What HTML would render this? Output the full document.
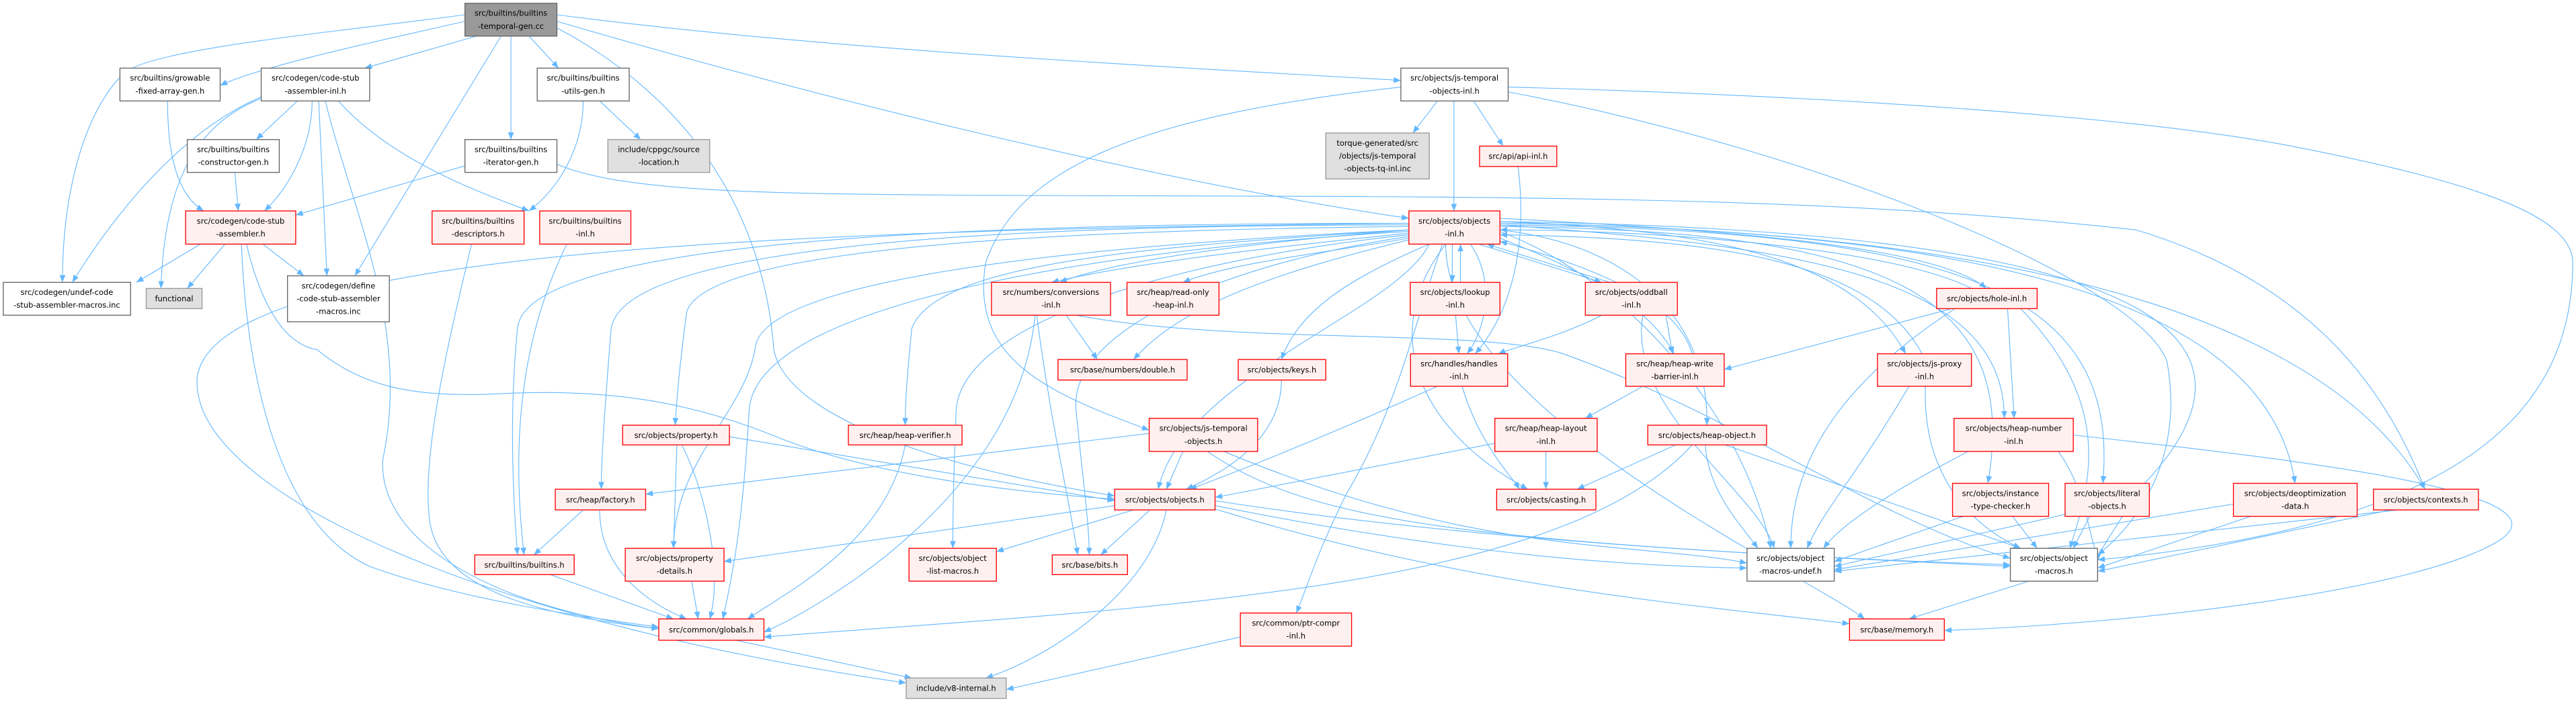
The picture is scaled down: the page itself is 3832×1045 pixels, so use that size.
<!DOCTYPE html>
<html><head><meta charset="utf-8"><style>
html,body{margin:0;padding:0;background:#fff;overflow:hidden;width:3832px;height:1045px;}
svg{display:block;}
.e{fill:none;stroke:#63b8ff;stroke-width:0.45;}
.w{fill:#fff;stroke:#666;stroke-width:0.55;}
.r{fill:#fff0f0;stroke:#ff0000;stroke-width:0.55;}
.g{fill:#e0e0e0;stroke:#999;stroke-width:0.55;}
.k{fill:#999;stroke:#666;stroke-width:0.55;}
text{font-family:"DejaVu Sans","Liberation Sans",sans-serif;font-size:4.7px;fill:#000;text-anchor:middle;}
</style></head><body>
<svg width="3832" height="1045" viewBox="0 0 1568 427.6" preserveAspectRatio="none" xmlns="http://www.w3.org/2000/svg">
<defs><marker id="a" markerUnits="userSpaceOnUse" markerWidth="5" markerHeight="4" refX="4.4" refY="1.8" orient="auto"><path d="M0,0 L4.4,1.8 L0,3.6 z" fill="#63b8ff"/></marker></defs>
<g marker-end="url(#a)">
<path class="e" d="M283,13 C230,25 160,40 134,52"/>
<path class="e" d="M290,22 L222,41.5"/>
<path class="e" d="M322,22 L340,41.5"/>
<path class="e" d="M311,22 L311,85"/>
<path class="e" d="M283,9 C200,20 90,30 75,45 C50,70 38,120 38,172"/>
<path class="e" d="M305,22 L216,168"/>
<path class="e" d="M339,9 C500,30 700,40 852.7,49"/>
<path class="e" d="M339,13 C500,60 700,110 857.6,133"/>
<path class="e" d="M339,17 C420,60 465,130 471,213 C480,260 600,290 678.5,302"/>
<path class="e" d="M181,61.5 L156,85"/>
<path class="e" d="M190,61.5 C190,90 175,115 161,128.5"/>
<path class="e" d="M194,61.5 L199,168"/>
<path class="e" d="M206,61.5 C240,100 300,120 322,128.5"/>
<path class="e" d="M159,60 C120,75 100,110 98,175.7"/>
<path class="e" d="M159,59 C110,80 70,130 44,172"/>
<path class="e" d="M198,61.5 C215,130 250,200 233,280 C230,330 300,370 401,383"/>
<path class="e" d="M122,148.7 L83,172"/>
<path class="e" d="M137,148.7 L114,175.7"/>
<path class="e" d="M160,148.7 L185,168"/>
<path class="e" d="M147,148.7 C150,230 170,320 225,345 C280,365 350,375 401,382"/>
<path class="e" d="M150,148.7 C160,190 175,210 193,213 C220,235 250,242 300,240 C370,236 420,245 470,265 C530,290 620,300 678.5,304"/>
<path class="e" d="M102,61.5 C102,100 110,120 124,128.5"/>
<path class="e" d="M143,105 L145,128.5"/>
<path class="e" d="M283,101 L180,131"/>
<path class="e" d="M339,100 C380,118 480,118 600,119 C900,120 1100,118 1300,140 C1400,170 1450,230 1476,298"/>
<path class="e" d="M365,61.5 L390,85"/>
<path class="e" d="M355,61.5 C355,90 340,115 322,128.5"/>
<path class="e" d="M287,148.7 C275,200 255,280 262,320 C270,360 330,375 401,383"/>
<path class="e" d="M345,148.7 C320,200 310,260 319,338"/>
<path class="e" d="M857.6,142 C780,150 690,160 640,172"/>
<path class="e" d="M857.6,140 C770,147 680,158 645,172"/>
<path class="e" d="M858,145 C800,155 750,160 720,172"/>
<path class="e" d="M884,148.7 L884,172"/>
<path class="e" d="M889,172 L889,148.7"/>
<path class="e" d="M900,148.7 L975,172"/>
<path class="e" d="M980,172 L905,148.7"/>
<path class="e" d="M858,146 C780,165 720,185 690,219"/>
<path class="e" d="M870,148.7 C820,170 790,190 780,219"/>
<path class="e" d="M895,148.7 C910,170 905,200 893,215.5"/>
<path class="e" d="M924,101 C930,150 920,190 898,215.5"/>
<path class="e" d="M913,145 C950,160 1000,180 1019,215.5"/>
<path class="e" d="M1030,215.5 C1020,180 960,160 913,147"/>
<path class="e" d="M857.6,140 C700,150 570,160 555,200 C552,230 551,245 551,259"/>
<path class="e" d="M857.6,138 C650,140 430,150 418,190 C414,220 412,240 411,259"/>
<path class="e" d="M857.6,137 C600,137 380,150 372,200 C368,250 366,280 366,298"/>
<path class="e" d="M857.6,136 C600,136 320,145 315,200 C310,250 312,300 315,338"/>
<path class="e" d="M857.6,140 C650,150 470,170 460,210 C455,250 410,280 410,334"/>
<path class="e" d="M857.6,141 C700,150 460,180 456,250 C452,320 446,350 440,377"/>
<path class="e" d="M857.6,136 C500,140 130,150 120,230 C115,300 300,380 551.6,416"/>
<path class="e" d="M870,148.7 C850,190 720,230 705,298"/>
<path class="e" d="M857.6,143 C700,160 585,200 582,250 C580,300 580,320 580,334"/>
<path class="e" d="M857.6,144 C750,160 650,200 655,250 C660,300 663,320 663,338"/>
<path class="e" d="M878,148.7 C860,200 850,250 820,300 C800,340 795,360 789,373.4"/>
<path class="e" d="M913,140 C1000,150 1040,200 1039,259"/>
<path class="e" d="M880,148.7 C840,200 860,260 930,298"/>
<path class="e" d="M913,133 C1050,140 1180,150 1209,175.7"/>
<path class="e" d="M1200,175.7 C1150,150 1000,140 913,140"/>
<path class="e" d="M913,135 C1050,140 1130,160 1160,215.5"/>
<path class="e" d="M1170,215.5 C1140,160 1050,145 913,143"/>
<path class="e" d="M913,137 C1100,150 1220,170 1220,254.8"/>
<path class="e" d="M913,138 C1150,140 1230,180 1210,294.4"/>
<path class="e" d="M913,137 C1200,140 1290,180 1280,294.4"/>
<path class="e" d="M913,136 C1200,140 1380,180 1397,294.4"/>
<path class="e" d="M913,136 C1250,140 1420,200 1476,298"/>
<path class="e" d="M913,141 C990,170 1060,250 1078,334"/>
<path class="e" d="M913,135 C1300,140 1400,200 1300,300 C1290,320 1277,335 1276.8,342"/>
<path class="e" d="M880,148.7 C880,250 1100,350 1135,377"/>
<path class="e" d="M875,61.5 L860,81"/>
<path class="e" d="M885,61.5 L885,128.5"/>
<path class="e" d="M897,61.5 L915,89"/>
<path class="e" d="M852.7,53 C700,70 620,100 600,160 C590,220 640,240 699.5,262"/>
<path class="e" d="M918,53 C1100,58 1300,70 1400,90 C1500,110 1566,130 1566,160 C1566,250 1500,320 1276.8,341"/>
<path class="e" d="M918,56 C1100,90 1300,170 1319,220 C1330,280 1300,320 1276.8,338"/>
<path class="e" d="M649,192 L668,219"/>
<path class="e" d="M631,192 C640,260 650,300 656,338"/>
<path class="e" d="M630,192 C620,300 500,370 465,385"/>
<path class="e" d="M655,192 C750,210 900,200 950,215 C1050,250 1150,320 1223.7,340"/>
<path class="e" d="M886,192 L888,215.5"/>
<path class="e" d="M1014,192 L1018,215.5"/>
<path class="e" d="M1000,192 C990,250 1070,300 1080,334"/>
<path class="e" d="M975,192 C950,205 920,212 912,215.5"/>
<path class="e" d="M780,231.5 C780,270 740,290 722,298"/>
<path class="e" d="M875,235.3 C820,260 760,285 724,298"/>
<path class="e" d="M890,235.3 C900,270 920,290 925,298"/>
<path class="e" d="M1000,235.3 L965,254.8"/>
<path class="e" d="M910,270 L739.6,303"/>
<path class="e" d="M941,275 L941,298"/>
<path class="e" d="M1020,271 L960,298"/>
<path class="e" d="M1030,271 C950,360 700,370 465,388"/>
<path class="e" d="M1038,271 C1040,300 1060,320 1070,334"/>
<path class="e" d="M1050,271 L1230,334"/>
<path class="e" d="M720,275 L710,298"/>
<path class="e" d="M699.5,264 L393,301"/>
<path class="e" d="M745,275 C900,340 1000,330 1063.4,343"/>
<path class="e" d="M735,275 C800,320 900,330 1223.7,345"/>
<path class="e" d="M444,266 L678.5,305"/>
<path class="e" d="M412,271 L410,334"/>
<path class="e" d="M415,271 C430,300 440,350 432,377"/>
<path class="e" d="M355,310.6 L325,338"/>
<path class="e" d="M365,310.6 C365,350 400,370 418,377"/>
<path class="e" d="M335,350 L410,377"/>
<path class="e" d="M421,354 L425,377"/>
<path class="e" d="M551,271 C540,330 480,360 455,377"/>
<path class="e" d="M690,310.6 L606.5,336"/>
<path class="e" d="M700,310.6 L670,338"/>
<path class="e" d="M710,310.6 C700,360 640,400 600,413"/>
<path class="e" d="M678.5,308 L440.7,342"/>
<path class="e" d="M739.6,308 C900,340 1000,345 1063.4,346"/>
<path class="e" d="M739.6,305 C900,330 1100,340 1223.7,344"/>
<path class="e" d="M739.6,310 C900,360 1050,370 1125.8,380"/>
<path class="e" d="M448,390 L555,413"/>
<path class="e" d="M755,388 L612.5,420"/>
<path class="e" d="M1188,188 L1049.5,225"/>
<path class="e" d="M1222,188 L1226,254.8"/>
<path class="e" d="M1190,188 C1110,240 1090,290 1090,334"/>
<path class="e" d="M1230,188 C1290,250 1270,300 1260,334"/>
<path class="e" d="M1162,235.3 C1130,290 1110,310 1100,334"/>
<path class="e" d="M1172,235.3 C1170,290 1200,320 1230,334"/>
<path class="e" d="M1198,275 C1150,300 1120,320 1110,334"/>
<path class="e" d="M1253,275 C1270,300 1270,320 1276.8,340"/>
<path class="e" d="M1262,265 C1400,280 1570,300 1520,330 C1470,360 1300,380 1183.5,384"/>
<path class="e" d="M1195,314.5 L1116.5,342"/>
<path class="e" d="M1225,314.5 L1240,334"/>
<path class="e" d="M1263,312 L1116.5,345"/>
<path class="e" d="M1272,314.5 L1262,334"/>
<path class="e" d="M1359.5,307 L1116.5,347"/>
<path class="e" d="M1370,314.5 L1276.8,346"/>
<path class="e" d="M1460,310.6 L1116.5,348"/>
<path class="e" d="M1455,310.6 L1276.8,348"/>
<path class="e" d="M1235,354 L1162,377"/>
</g>
<rect class="k" x="283" y="2" width="56" height="20"/><text x="311" y="9.7">src/builtins/builtins</text><text x="311" y="17.5">-temporal-gen.cc</text>
<rect class="w" x="73" y="41.5" width="61" height="20"/><text x="103.5" y="49.2">src/builtins/growable</text><text x="103.5" y="57">-fixed-array-gen.h</text>
<rect class="w" x="159" y="41.5" width="66" height="20"/><text x="192" y="49.2">src/codegen/code-stub</text><text x="192" y="57">-assembler-inl.h</text>
<rect class="w" x="327" y="41.5" width="56" height="20"/><text x="355" y="49.2">src/builtins/builtins</text><text x="355" y="57">-utils-gen.h</text>
<rect class="w" x="852.7" y="41.5" width="65.3" height="20"/><text x="885.3" y="49.2">src/objects/js-temporal</text><text x="885.3" y="57">-objects-inl.h</text>
<rect class="w" x="114" y="85" width="56" height="20"/><text x="142" y="92.7">src/builtins/builtins</text><text x="142" y="100.5">-constructor-gen.h</text>
<rect class="w" x="283" y="85" width="56" height="20"/><text x="311" y="92.7">src/builtins/builtins</text><text x="311" y="100.5">-iterator-gen.h</text>
<rect class="g" x="370" y="85" width="62" height="20"/><text x="401" y="92.7">include/cppgc/source</text><text x="401" y="100.5">-location.h</text>
<rect class="g" x="807" y="81" width="63" height="28"/><text x="838.5" y="88.8">torque-generated/src</text><text x="838.5" y="96.6">/objects/js-temporal</text><text x="838.5" y="104.4">-objects-tq-inl.inc</text>
<rect class="r" x="900.6" y="89" width="47" height="12.4"/><text x="924.1" y="96.8">src/api/api-inl.h</text>
<rect class="r" x="113" y="128.5" width="67" height="20.2"/><text x="146.5" y="136.3">src/codegen/code-stub</text><text x="146.5" y="144.1">-assembler.h</text>
<rect class="r" x="263" y="128.5" width="56" height="20.2"/><text x="291" y="136.3">src/builtins/builtins</text><text x="291" y="144.1">-descriptors.h</text>
<rect class="r" x="328.5" y="128.5" width="55.5" height="20.2"/><text x="356.2" y="136.3">src/builtins/builtins</text><text x="356.2" y="144.1">-inl.h</text>
<rect class="r" x="857.6" y="128.5" width="55.4" height="20.2"/><text x="885.3" y="136.3">src/objects/objects</text><text x="885.3" y="144.1">-inl.h</text>
<rect class="w" x="2" y="172" width="77.5" height="20"/><text x="40.7" y="179.7">src/codegen/undef-code</text><text x="40.7" y="187.5">-stub-assembler-macros.inc</text>
<rect class="g" x="89" y="175.7" width="34" height="12.3"/><text x="106" y="183.5">functional</text>
<rect class="w" x="175" y="168" width="62" height="28"/><text x="206" y="175.8">src/codegen/define</text><text x="206" y="183.6">-code-stub-assembler</text><text x="206" y="191.4">-macros.inc</text>
<rect class="r" x="603.5" y="172" width="72.5" height="20"/><text x="639.7" y="179.7">src/numbers/conversions</text><text x="639.7" y="187.5">-inl.h</text>
<rect class="r" x="686" y="172" width="56" height="20"/><text x="714" y="179.7">src/heap/read-only</text><text x="714" y="187.5">-heap-inl.h</text>
<rect class="r" x="858.4" y="172" width="54.6" height="20"/><text x="885.7" y="179.7">src/objects/lookup</text><text x="885.7" y="187.5">-inl.h</text>
<rect class="r" x="965" y="172" width="56" height="20"/><text x="993" y="179.7">src/objects/oddball</text><text x="993" y="187.5">-inl.h</text>
<rect class="r" x="1178.8" y="175.7" width="61.2" height="12.3"/><text x="1209.4" y="183.5">src/objects/hole-inl.h</text>
<rect class="r" x="644" y="219" width="78.6" height="12.5"/><text x="683.3" y="226.9">src/base/numbers/double.h</text>
<rect class="r" x="753.7" y="219" width="53.3" height="12.5"/><text x="780.3" y="226.9">src/objects/keys.h</text>
<rect class="r" x="858.6" y="215.5" width="59.1" height="19.8"/><text x="888.1" y="223.2">src/handles/handles</text><text x="888.1" y="231">-inl.h</text>
<rect class="r" x="989.6" y="215.5" width="59.9" height="19.8"/><text x="1019.5" y="223.2">src/heap/heap-write</text><text x="1019.5" y="231">-barrier-inl.h</text>
<rect class="r" x="1142.8" y="215.5" width="57.2" height="19.8"/><text x="1171.4" y="223.2">src/objects/js-proxy</text><text x="1171.4" y="231">-inl.h</text>
<rect class="r" x="379" y="259" width="65" height="12"/><text x="411.5" y="266.7">src/objects/property.h</text>
<rect class="r" x="516.4" y="259" width="69.2" height="12"/><text x="551" y="266.7">src/heap/heap-verifier.h</text>
<rect class="r" x="699.5" y="254.8" width="66" height="20.2"/><text x="732.5" y="262.6">src/objects/js-temporal</text><text x="732.5" y="270.4">-objects.h</text>
<rect class="r" x="909.9" y="254.8" width="62.3" height="20.2"/><text x="941" y="262.6">src/heap/heap-layout</text><text x="941" y="270.4">-inl.h</text>
<rect class="r" x="1003" y="259" width="72.3" height="12"/><text x="1039.1" y="266.7">src/objects/heap-object.h</text>
<rect class="r" x="1189.4" y="254.8" width="72.6" height="20.2"/><text x="1225.7" y="262.6">src/objects/heap-number</text><text x="1225.7" y="270.4">-inl.h</text>
<rect class="r" x="338" y="298" width="55" height="12.6"/><text x="365.5" y="306">src/heap/factory.h</text>
<rect class="r" x="678.5" y="298" width="61.1" height="12.6"/><text x="709" y="306">src/objects/objects.h</text>
<rect class="r" x="911" y="298" width="60.4" height="12.6"/><text x="941.2" y="306">src/objects/casting.h</text>
<rect class="r" x="1444.7" y="298" width="63.9" height="12.6"/><text x="1476.6" y="306">src/objects/contexts.h</text>
<rect class="r" x="1188.5" y="294.4" width="58.5" height="20.1"/><text x="1217.7" y="302.2">src/objects/instance</text><text x="1217.7" y="310">-type-checker.h</text>
<rect class="r" x="1257" y="294.4" width="51.3" height="20.1"/><text x="1282.6" y="302.2">src/objects/literal</text><text x="1282.6" y="310">-objects.h</text>
<rect class="r" x="1359.5" y="294.4" width="75.3" height="20.1"/><text x="1397.1" y="302.2">src/objects/deoptimization</text><text x="1397.1" y="310">-data.h</text>
<rect class="r" x="289" y="338" width="60.5" height="12"/><text x="319.2" y="345.7">src/builtins/builtins.h</text>
<rect class="r" x="380.6" y="334" width="60.1" height="20"/><text x="410.6" y="341.7">src/objects/property</text><text x="410.6" y="349.5">-details.h</text>
<rect class="r" x="553.3" y="334" width="53.2" height="20"/><text x="579.9" y="341.7">src/objects/object</text><text x="579.9" y="349.5">-list-macros.h</text>
<rect class="r" x="640.5" y="338" width="45.8" height="12"/><text x="663.4" y="345.7">src/base/bits.h</text>
<rect class="w" x="1063.4" y="334" width="53.1" height="20"/><text x="1089.9" y="341.7">src/objects/object</text><text x="1089.9" y="349.5">-macros-undef.h</text>
<rect class="w" x="1223.7" y="334" width="53.1" height="20"/><text x="1250.2" y="341.7">src/objects/object</text><text x="1250.2" y="349.5">-macros.h</text>
<rect class="r" x="755" y="373.4" width="67.7" height="20.2"/><text x="788.8" y="381.2">src/common/ptr-compr</text><text x="788.8" y="389">-inl.h</text>
<rect class="r" x="401" y="377" width="64" height="13"/><text x="433" y="385.2">src/common/globals.h</text>
<rect class="r" x="1125.8" y="377" width="57.7" height="13"/><text x="1154.6" y="385.2">src/base/memory.h</text>
<rect class="g" x="551.6" y="413" width="60.9" height="12.4"/><text x="582" y="420.9">include/v8-internal.h</text>
</svg>
</body></html>
